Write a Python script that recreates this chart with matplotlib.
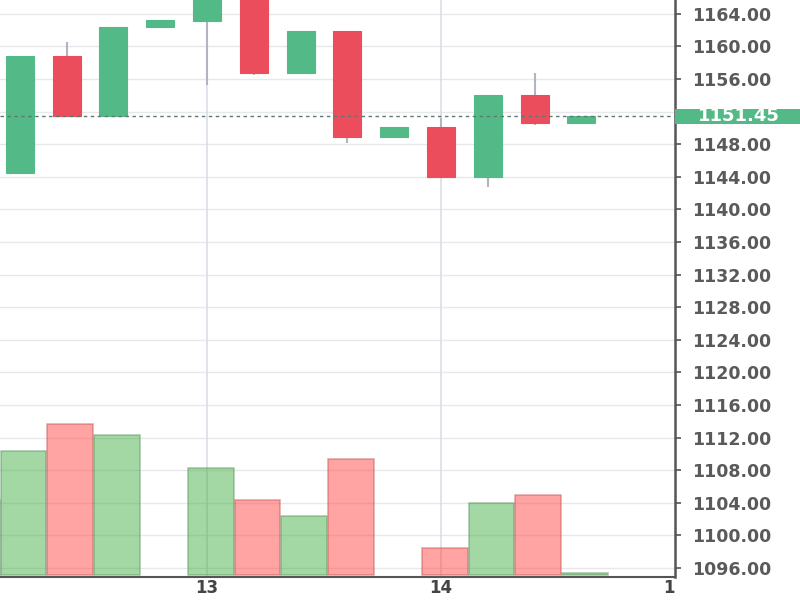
import matplotlib
matplotlib.use("Agg")
import matplotlib.pyplot as plt
import numpy as np
from matplotlib.patches import Rectangle
from matplotlib.transforms import Bbox, TransformedBbox, blended_transform_factory

# ---- data ----
candle_idx = list(range(13))
opens  = [1144.5, 1158.8, 1151.5, 1162.4, 1163.1, 1168.5, 1156.7, 1161.9, 1148.9, 1150.1, 1144.0, 1154.0, 1150.6]
closes = [1158.8, 1151.5, 1162.4, 1163.2, 1168.0, 1156.7, 1161.9, 1148.9, 1150.1, 1144.0, 1154.0, 1150.6, 1151.45]
highs  = [1158.8, 1160.5, 1162.4, 1163.2, 1168.5, 1169.0, 1161.9, 1161.9, 1150.1, 1151.2, 1154.0, 1156.7, 1151.45]
lows   = [1144.5, 1151.5, 1151.5, 1162.4, 1155.3, 1156.5, 1156.7, 1148.1, 1148.9, 1144.0, 1142.7, 1150.4, 1150.6]

vol_idx = list(range(-1, 13))
volumes = [7500, 12400, 15100, 14000, 0, 10700, 7500, 5900, 11600, 0, 2700, 7200, 8000, 200]
vol_up  = [True, True, False, True, True, True, False, True, False, True, False, True, False, True]

day_ticks = [4, 9, 14]
day_labels = ["13", "14", "15"]
price_ticks = list(range(1096, 1168, 4))
last_price = 1151.45

# ---- style ----
UP = "#53b987"
DOWN = "#eb4d5c"
WICK = "#b4b4c0"
VOL_UP = "#48b048"
VOL_DOWN = "#ff4848"
TXT = "#5a5a5a"

fig = plt.figure(figsize=(8, 6), dpi=100)
ax = fig.add_axes([0, 23/600, 675/800, 577/600])
axv = ax.twinx()
axv.set_zorder(ax.get_zorder() - 1)
ax.patch.set_visible(False)

ax.set_xlim(-0.4224, 13.976)
ax.set_ylim(1094.90, 1165.69)
axv.set_ylim(-200, 57500)

# grid (drawn on the volume axes, behind the bars, in price coordinates)
gtr = blended_transform_factory(axv.transAxes, ax.transData)
for p in price_ticks:
    axv.plot([0, 1], [p, p], transform=gtr, color="#e7e7ec", lw=1, zorder=0)
for d in day_ticks[:2]:
    axv.axvline(d, color="#d9dee6", lw=1.2, zorder=0)

# volume bars (bars with zero volume are not drawn)
vx = np.array(vol_idx) + 0.08
vv = np.array(volumes)
vu = np.array(vol_up)
nz = vv > 0
vcols = [VOL_UP if u else VOL_DOWN for u in vu[nz]]
ecols = ["#5e9a62" if u else "#c85a5a" for u in vu[nz]]
axv.bar(vx[nz], vv[nz], width=0.98, color=vcols, alpha=0.5, edgecolor=ecols,
        linewidth=1.2, zorder=2)

# candles
colors = [UP if c >= o else DOWN for o, c in zip(opens, closes)]
ax.vlines(candle_idx, lows, highs, color=WICK, lw=1.5, zorder=3)
bottoms = [min(o, c) for o, c in zip(opens, closes)]
heights = [abs(c - o) for o, c in zip(opens, closes)]
ax.bar(candle_idx, heights, bottom=bottoms, width=0.6, color=colors,
       edgecolor=colors, linewidth=0.8, zorder=4)

# last price line
ax.axhline(last_price, color="#5d7a72", lw=1, ls=(0, (2.5, 2.5)), zorder=5)

# axes styling
for s in ["top", "left"]:
    ax.spines[s].set_visible(False)
    axv.spines[s].set_visible(False)
axv.spines["right"].set_visible(False)
axv.spines["bottom"].set_visible(False)
ax.spines["right"].set_color("#555555")
ax.spines["right"].set_linewidth(1.8)
ax.spines["bottom"].set_color("#555555")
ax.spines["bottom"].set_linewidth(1.5)
axv.set_yticks([])
ax.yaxis.tick_right()
ax.set_yticks(price_ticks)
# the label nearest the last price is hidden behind the price marker
ylabels = [f"{p:.2f}" if abs(p - last_price) > 2 else "" for p in price_ticks]
ax.set_yticklabels(ylabels)
ax.tick_params(axis="y", which="major", direction="out", length=4, width=1.2,
               color="#555555", labelcolor=TXT, labelsize=12.5, pad=8)
for lab in ax.get_yticklabels():
    lab.set_fontweight("bold")
ax.set_xticks(day_ticks)
ax.set_xticklabels([])
ax.tick_params(axis="x", direction="out", length=3, width=1.2, color="#555555")
axv.set_xticks([])

# x labels clipped at the price scale
clip = TransformedBbox(Bbox([[0, 0], [675/800, 1]]), fig.transFigure)
tr = blended_transform_factory(ax.transData, ax.transAxes)
for d, lab in zip(day_ticks, day_labels):
    t = ax.text(d, -0.0195, lab, transform=tr, ha="center", va="center",
                fontsize=12, color="#444444", fontweight="bold", clip_on=True)
    t.set_clip_box(clip)

# last price label
trp = blended_transform_factory(ax.transAxes, ax.transData)
h = 15 / 8.15
ax.add_patch(Rectangle((1.0, last_price - h / 2), 125 / 675, h, transform=trp,
                       facecolor=UP, edgecolor="none", clip_on=False, zorder=6))
ax.text(1.0 + 64 / 675, last_price, f"{last_price:.2f}", transform=trp,
        ha="center", va="center", color="white", fontsize=13,
        fontweight="bold", zorder=7, clip_on=False)

fig.savefig("out.png", dpi=100)
